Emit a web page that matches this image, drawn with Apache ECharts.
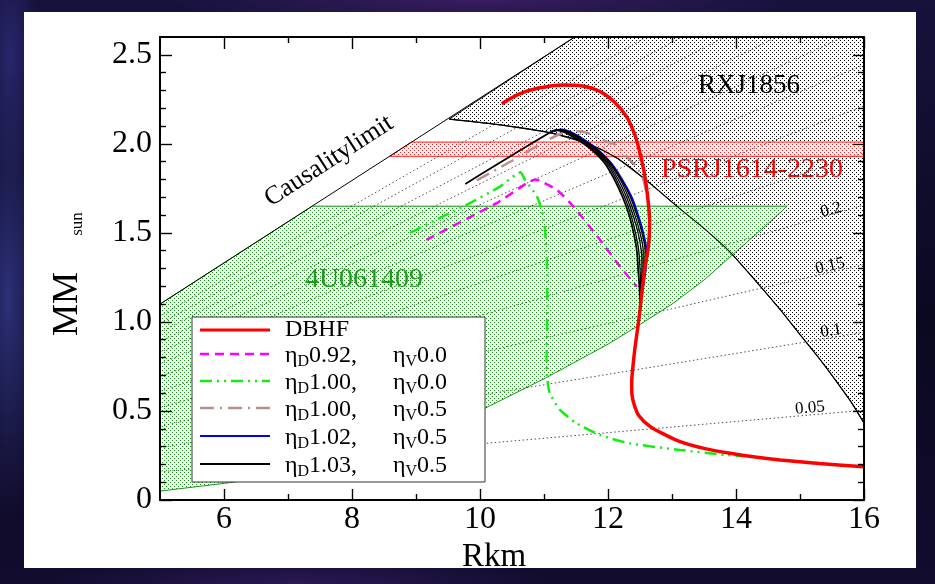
<!DOCTYPE html>
<html>
<head>
<meta charset="utf-8">
<script src="https://cdn.jsdelivr.net/npm/echarts@6/dist/echarts.min.js"></script>
<style>
  html, body { margin: 0; padding: 0; width: 935px; height: 584px; overflow: hidden; }
  body { background: #0c0a26; }
  #sky {
    position: absolute; left: 0; top: 0; width: 935px; height: 584px;
    background:
      radial-gradient(ellipse 40px 220px at 8px 300px, rgba(70, 80, 190, 0.55), transparent),
      radial-gradient(ellipse 30px 120px at 10px 60px, rgba(60, 60, 160, 0.5), transparent),
      radial-gradient(ellipse 320px 30px at 480px 0px, rgba(90, 40, 130, 0.5), transparent),
      radial-gradient(ellipse 260px 30px at 300px 584px, rgba(70, 40, 130, 0.45), transparent),
      linear-gradient(180deg, #16123c 0%, #0b0920 55%, #120c2e 100%);
  }
  #panel { position: absolute; left: 24px; top: 12px; width: 892px; height: 556px; background: #ffffff; }
  #chart { position: absolute; left: 0; top: 0; width: 935px; height: 584px; }
</style>
</head>
<body>
<div id="sky"></div>
<div id="panel"></div>
<div id="chart"></div>
<script>
// ---- axis ticks and labels ----
const xMajor = [6, 8, 10, 12, 14, 16];
const xMinor = [7, 9, 11, 13, 15];
const yMajor = [0, 0.5, 1.0, 1.5, 2.0, 2.5];
const yMinor = [0.1, 0.2, 0.3, 0.4, 0.6, 0.7, 0.8, 0.9, 1.1, 1.2, 1.3, 1.4,
                1.6, 1.7, 1.8, 1.9, 2.1, 2.2, 2.3, 2.4];

// ---- constraint regions (R km, M sun) ----
const causalityLine = [[5, 1.10], [11.48, 2.6]];
const rxjCurve = [[9.52, 2.139], [10.31, 2.107], [11.09, 2.063], [11.67, 2.004], [12.14, 1.92],
                  [12.60, 1.795], [13.125, 1.635], [13.5, 1.525], [13.9, 1.395], [14.32, 1.225],
                  [14.7, 1.065], [15.02, 0.92], [15.3, 0.795], [15.52, 0.69], [15.8, 0.55], [16.0, 0.431]];
const rxjCorners = [[11.48, 2.6], [16, 2.6], [16, 0.431]];
const ns4uLower = [[5, 0.05], [6.15, 0.10], [7, 0.155], [8, 0.24], [9, 0.36], [10.05, 0.51],
                   [11.02, 0.684], [12.0, 0.875], [12.45, 0.974], [13.0, 1.10], [13.5, 1.235],
                   [14.03, 1.404], [14.4, 1.52], [14.8, 1.65]];
const ns4uUpper = [[7.38, 1.65], [5, 1.10]];
const psrBand = [[8.59, 1.93], [16, 1.93], [16, 2.01], [8.93, 2.01]];

// ---- constant redshift lines (start, end) ----
const redshiftLines = [
  [[5, 0.158], [16, 0.504]],
  [[5, 0.294], [16, 0.941]],
  [[5, 0.413], [16, 1.322]],
  [[5, 0.518], [16, 1.656]],
  [[5, 0.610], [16, 1.950]],
  [[5, 0.692], [16, 2.213]],
  [[5, 0.764], [16, 2.445]],
  [[5, 0.829], [15.68, 2.6]],
  [[5, 0.888], [14.64, 2.6]],
  [[5, 0.941], [13.82, 2.6]],
  [[5, 0.989], [13.15, 2.6]],
  [[5, 1.032], [12.60, 2.6]]
];
const redshiftLabels = ['0.05', '0.1', '0.15', '0.2'];

// ---- mass-radius curves ----
const dbhf = [[10.34, 2.225], [10.6, 2.278], [10.9, 2.312], [11.3, 2.331], [11.6, 2.325], [11.875, 2.294],
              [12.1, 2.235], [12.29, 2.153], [12.42, 2.05], [12.5, 1.948], [12.56, 1.85], [12.6, 1.76],
              [12.635, 1.65], [12.65, 1.573], [12.645, 1.48], [12.625, 1.404], [12.58, 1.31], [12.54, 1.2],
              [12.5, 1.067], [12.46, 0.955], [12.42, 0.85], [12.39, 0.75], [12.37, 0.66], [12.375, 0.59],
              [12.41, 0.535], [12.48, 0.475], [12.66, 0.412], [12.9, 0.365], [13.125, 0.328], [13.5, 0.29],
              [13.91, 0.262], [14.3, 0.241], [14.69, 0.225], [15.3, 0.205], [16.0, 0.187]];
const etaD092V00 = [[9.16, 1.461], [10.26, 1.667], [10.73, 1.779], [10.86, 1.80], [11.2, 1.742],
                    [11.46, 1.648], [11.875, 1.461], [12.19, 1.31], [12.45, 1.198]];
const etaD100V00 = [[8.91, 1.50], [9.3, 1.572], [9.74, 1.648], [10.31, 1.76], [10.55, 1.826], [10.63, 1.84],
                    [10.70, 1.80], [10.89, 1.704], [10.99, 1.59], [11.03, 1.45], [11.05, 1.25], [11.05, 1.0],
                    [11.04, 0.80], [11.05, 0.685], [11.09, 0.60], [11.25, 0.506], [11.51, 0.431],
                    [11.875, 0.365], [12.34, 0.318], [13.125, 0.281], [13.85, 0.253], [14.1, 0.246]];
const etaD100V05 = [[9.95, 1.795], [10.5, 1.905], [11.0, 2.01], [11.3, 2.062], [11.51, 2.072], [11.67, 2.062],
                    [11.98, 2.013], [12.14, 1.99], [12.34, 1.91], [12.45, 1.87], [12.55, 1.80], [12.6, 1.72],
                    [12.635, 1.62], [12.64, 1.5], [12.62, 1.4], [12.58, 1.3], [12.54, 1.2], [12.5, 1.08]];
const etaD102V05 = [[11.12, 2.069], [11.27, 2.08], [11.72, 2.0], [12.03, 1.9], [12.22, 1.8], [12.37, 1.7],
                    [12.47, 1.6], [12.55, 1.5], [12.60, 1.4], [12.59, 1.3], [12.55, 1.2], [12.51, 1.1], [12.50, 1.06]];
const etaD103V05 = [[9.77, 1.775], [11.12, 2.069], [11.2, 2.076], [11.62, 2.0], [11.93, 1.9], [12.10, 1.8],
                    [12.23, 1.7], [12.33, 1.6], [12.40, 1.5], [12.45, 1.4], [12.47, 1.3], [12.49, 1.2],
                    [12.50, 1.1], [12.50, 1.06]];
const bundleA = [[11.15, 2.072], [11.22, 2.078], [11.64, 2.0], [11.96, 1.9], [12.13, 1.8], [12.26, 1.7],
                 [12.36, 1.6], [12.43, 1.5], [12.48, 1.4], [12.50, 1.3], [12.51, 1.2], [12.50, 1.1], [12.50, 1.06]];
const bundleB = [[11.15, 2.072], [11.24, 2.079], [11.67, 2.0], [11.98, 1.9], [12.16, 1.8], [12.29, 1.7],
                 [12.39, 1.6], [12.47, 1.5], [12.52, 1.4], [12.53, 1.3], [12.52, 1.2], [12.50, 1.1], [12.50, 1.06]];
const bundleC = [[11.15, 2.072], [11.25, 2.08], [11.69, 2.0], [12.00, 1.9], [12.19, 1.8], [12.32, 1.7],
                 [12.42, 1.6], [12.50, 1.5], [12.55, 1.4], [12.55, 1.3], [12.53, 1.2], [12.50, 1.1], [12.50, 1.06]];
const bundleD = [[11.15, 2.072], [11.26, 2.08], [11.71, 2.0], [12.02, 1.9], [12.21, 1.8], [12.35, 1.7],
                 [12.45, 1.6], [12.53, 1.5], [12.58, 1.4], [12.57, 1.3], [12.54, 1.2], [12.51, 1.1], [12.50, 1.06]];

const FONT = '"Liberation Serif", "Times New Roman", Times, serif';

// small repeating dot textures for the shaded regions
function dots(color) {
  const c = document.createElement('canvas');
  c.width = 4; c.height = 4;
  const g = c.getContext('2d');
  g.fillStyle = '#ffffff';
  g.fillRect(0, 0, 4, 4);
  g.fillStyle = color;
  g.fillRect(0, 0, 1, 1);
  g.fillRect(2, 2, 1, 1);
  return { type: 'pattern', image: c, repeat: 'repeat' };
}

function region(name, pts, fill, stroke, z) {
  return {
    type: 'custom', name, z, silent: true,
    data: [[pts[0][0], pts[0][1]]],
    renderItem: (params, api) => ({
      type: 'polygon',
      shape: { points: pts.map(p => api.coord(p)) },
      style: { fill, stroke, lineWidth: 1 }
    })
  };
}

function curve(name, data, color, width, dash, z, smooth) {
  return {
    type: 'line', name, data, z, symbol: 'none', showSymbol: false, silent: true,
    smooth: smooth === undefined ? 0.25 : smooth,
    lineStyle: { color, width, type: dash || 'solid' }
  };
}

function xAxisCfg(position, ticks, len, extra) {
  return Object.assign({
    type: 'value', min: 5, max: 16, position, z: 50,
    axisLine: { show: false, onZero: false },
    axisTick: { show: true, inside: true, length: len, customValues: ticks, lineStyle: { color: '#000', width: 1.4 } },
    axisLabel: { show: false },
    splitLine: { show: false }
  }, extra || {});
}
function yAxisCfg(position, ticks, len, extra) {
  return Object.assign({
    type: 'value', min: 0, max: 2.6, position, z: 50,
    axisLine: { show: false, onZero: false },
    axisTick: { show: true, inside: true, length: len, customValues: ticks, lineStyle: { color: '#000', width: 1.4 } },
    axisLabel: { show: false },
    splitLine: { show: false }
  }, extra || {});
}
const frame = { show: true, onZero: false, lineStyle: { color: '#000', width: 2 } };

// RXJ1856 shading: up the causality line, along the frame, back along the RXJ curve
const rxjRegion = [rxjCurve[0]].concat(rxjCorners, rxjCurve.slice().reverse());
const ns4uRegion = ns4uLower.concat(ns4uUpper);

const chart = echarts.init(document.getElementById('chart'), null, { renderer: 'canvas' });

const legendRows = [
  { y: 330, color: '#ff0000', width: 3, dash: null, a: 'DBHF' },
  { y: 354, color: '#ff00ff', width: 2.5, dash: [9, 6], d: '0.92,', v: '0.0' },
  { y: 381, color: '#11ee11', width: 2.5, dash: [12, 5, 2, 5, 2, 5], d: '1.00,', v: '0.0' },
  { y: 408, color: '#bc8f8f', width: 2.5, dash: [14, 6, 2, 6], d: '1.00,', v: '0.5' },
  { y: 436, color: '#0000ff', width: 2, dash: null, d: '1.02,', v: '0.5' },
  { y: 464, color: '#000000', width: 2, dash: null, d: '1.03,', v: '0.5' }
];
const richEta = {
  n: { fontSize: 24, fontFamily: FONT, fill: '#000', color: '#000', lineHeight: 28, verticalAlign: 'middle' },
  s: { fontSize: 16, fontFamily: FONT, fill: '#000', color: '#000', lineHeight: 18, verticalAlign: 'bottom' }
};

const graphics = [
  { type: 'rect', z: 100, shape: { x: 192, y: 317, width: 293, height: 165 },
    style: { fill: '#ffffff', stroke: '#333', lineWidth: 1 } }
];
legendRows.forEach(r => {
  graphics.push({ type: 'line', z: 101, shape: { x1: 200, y1: r.y, x2: 270, y2: r.y },
    style: { stroke: r.color, lineWidth: r.width, lineDash: r.dash } });
  if (r.a) {
    graphics.push({ type: 'text', z: 101, x: 285, y: r.y,
      style: { text: r.a, fontSize: 24, fontFamily: FONT, fill: '#000', align: 'left', verticalAlign: 'middle' } });
  } else {
    graphics.push({ type: 'text', z: 101, x: 285, y: r.y + 2,
      style: { text: '{n|η}{s|D}{n|' + r.d + '}', rich: richEta, align: 'left', verticalAlign: 'middle' } });
    graphics.push({ type: 'text', z: 101, x: 393, y: r.y + 2,
      style: { text: '{n|η}{s|V}{n|' + r.v + '}', rich: richEta, align: 'left', verticalAlign: 'middle' } });
  }
});

function note(text, x, y, size, color, deg) {
  return { type: 'text', z: 90, x, y, rotation: (deg || 0) * Math.PI / 180,
    style: { text, fontSize: size, fontFamily: FONT, fill: color, align: 'center', verticalAlign: 'middle' } };
}
graphics.push(
  note('RXJ1856', 749, 86, 27, '#000'),
  note('PSRJ1614-2230', 752, 170, 28, '#ff0000'),
  note('4U061409', 364, 280, 28, '#1f9a1f'),
  note('Causalitylimit', 329, 161, 26, '#000', 32.8),
  note(redshiftLabels[3], 831, 210, 17, '#000', 15),
  note(redshiftLabels[2], 830, 266, 17, '#000', 12),
  note(redshiftLabels[1], 831, 331, 17, '#000', 9),
  note(redshiftLabels[0], 810, 408, 17, '#000', 5),
  note('MM', 68, 304, 36, '#000', 90),
  note('sun', 78, 224, 17, '#000', 90)
);

const option = {
  animation: false,
  backgroundColor: 'transparent',
  textStyle: { fontFamily: FONT },
  grid: { left: 160, top: 37, width: 704, height: 463, containLabel: false, outerBoundsMode: 'none' },
  xAxis: [
    xAxisCfg('bottom', xMajor, 11, {
      axisLine: frame,
      axisLabel: { show: true, customValues: xMajor, fontSize: 32, fontFamily: FONT, color: '#000', margin: 4 },
      name: 'Rkm', nameLocation: 'middle', nameGap: 31,
      nameTextStyle: { fontSize: 33, fontFamily: FONT, color: '#000', padding: [0, 36, 0, 0] }
    }),
    xAxisCfg('bottom', xMinor, 6),
    xAxisCfg('top', xMajor, 12, { axisLine: frame }),
    xAxisCfg('top', xMinor, 6)
  ],
  yAxis: [
    yAxisCfg('left', yMajor, 12, {
      axisLine: frame,
      axisLabel: { show: true, customValues: yMajor, fontSize: 32, fontFamily: FONT, color: '#000', margin: 8,
        formatter: v => (v === 0 ? '0' : v.toFixed(1)) }
    }),
    yAxisCfg('left', yMinor, 6),
    yAxisCfg('right', yMajor, 11, { axisLine: frame }),
    yAxisCfg('right', yMinor, 6)
  ],
  graphic: graphics,
  series: [
    region('RXJ1856', rxjRegion, dots('#000000'), '#000', 1),
    region('4U0614+09', ns4uRegion, dots('#0f980f'), '#1f8f1f', 2),
    region('PSRJ1614-2230', psrBand, dots('#ff2020'), '#ff2020', 3),
    {
      type: 'lines', name: 'redshift', coordinateSystem: 'cartesian2d', z: 4, silent: true,
      data: redshiftLines.map(c => ({ coords: c })),
      lineStyle: { color: '#333', width: 1, type: [1.5, 2.5], opacity: 0.85 }
    },
    curve('RXJ1856 limit', rxjCurve, '#000', 1.2, null, 5, 0.3),
    curve('Causality limit', causalityLine, '#000', 1, null, 6, false),
    curve('ηD 0.92, ηV 0.0', etaD092V00, '#ff00ff', 2.5, [9, 6], 7, 0.15),
    curve('ηD 1.00, ηV 0.0', etaD100V00, '#11ee11', 2.5, [12, 5, 2, 5, 2, 5], 8, 0.2),
    curve('ηD 1.00, ηV 0.5', etaD100V05, '#bc8f8f', 2.5, [14, 6, 2, 6], 9, 0.25),
    curve('ηD 1.02, ηV 0.5', etaD102V05, '#0000ff', 2, null, 10, 0.3),
    curve('bundle A', bundleA, '#000', 1.3, null, 11, 0.3),
    curve('bundle B', bundleB, '#000', 1.3, null, 11, 0.3),
    curve('bundle C', bundleC, '#000', 1.3, null, 11, 0.3),
    curve('bundle D', bundleD, '#000', 1.3, null, 11, 0.3),
    curve('ηD 1.03, ηV 0.5', etaD103V05, '#000', 1.8, null, 12, 0.3),
    curve('DBHF', dbhf, '#ff0000', 3.5, null, 13, 0.3)
  ]
};
chart.setOption(option);
</script>
</body>
</html>
